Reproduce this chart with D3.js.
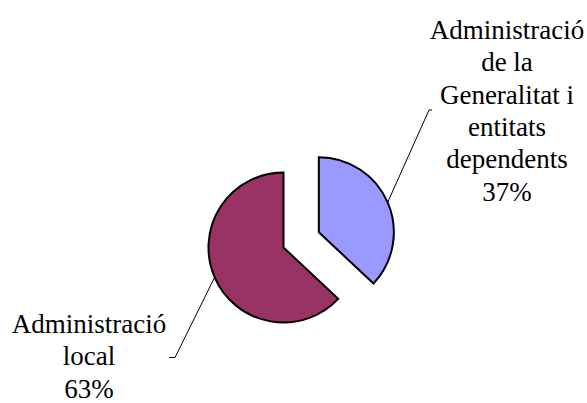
<!DOCTYPE html>
<html><head><meta charset="utf-8">
<script src="https://cdn.jsdelivr.net/npm/d3@7"></script></head>
<body style="margin:0">
<div id="wrap" style="position:relative;width:587px;height:403px;">
<svg id="s" width="587" height="403" style="position:absolute;left:0;top:0"></svg>
</div>
<script>
const categories = ["Administració de la Generalitat i entitats dependents", "Administració local"];
const values = [37, 63];
const labelLines = [
  ["Administració", "de la", "Generalitat i", "entitats", "dependents"],
  ["Administració", "local"]
];
const percentLabels = ["37%", "63%"];
const colors = ["#9999FF", "#993366"];

const svg = d3.select("#s");
const cx = 283.5, cy = 247.5, r = 75;
const explode = [38.5, 0];

const pie = d3.pie().sort(null).value(d => d.value);
const arcs = pie(categories.map((c, i) => ({ name: c, value: values[i] })));
const arc = d3.arc().innerRadius(0).outerRadius(r);

function offset(d, i) {
  const a = (d.startAngle + d.endAngle) / 2;
  return [Math.sin(a) * explode[i], -Math.cos(a) * explode[i]];
}

const labelCfg = [
  { x: 507, top: 13.7, anchor: [429, 110], tick: [432, 110] },
  { x: 89, top: 307.7, anchor: [175, 357.5], tick: [169, 357.5] }
];
const lineH = 32.4;

arcs.forEach((d, i) => {
  const o = offset(d, i);
  const a = (d.startAngle + d.endAngle) / 2;
  const ex = cx + o[0] + Math.sin(a) * r;
  const ey = cy + o[1] - Math.cos(a) * r;
  const c = labelCfg[i];
  svg.append("polyline")
    .attr("points", [[ex, ey], c.anchor, c.tick].map(p => p.join(",")).join(" "))
    .attr("fill", "none").attr("stroke", "#000").attr("stroke-width", 1);
});

svg.append("g").selectAll("path").data(arcs).join("path")
  .attr("transform", (d, i) => { const o = offset(d, i); return `translate(${cx + o[0]},${cy + o[1]})`; })
  .attr("d", arc)
  .attr("fill", (d, i) => colors[i])
  .attr("stroke", "#000")
  .attr("stroke-width", 2);

// labels as HTML blocks, centred on c.x
const wrap = d3.select("#wrap");
labelCfg.forEach((c, i) => {
  const lines = labelLines[i].concat([percentLabels[i]]);
  const div = wrap.append("div")
    .style("position", "absolute")
    .style("left", (c.x - 100) + "px")
    .style("top", c.top + "px")
    .style("width", "200px")
    .style("text-align", "center")
    .style("font-family", "'Liberation Serif', 'Times New Roman', Tinos, 'Nimbus Roman', FreeSerif, 'DejaVu Serif', serif")
    .style("font-size", "27px")
    .style("line-height", lineH + "px")
    .style("color", "#000")
    .style("white-space", "nowrap");
  lines.forEach(ln => div.append("div").text(ln));
});
</script></body></html>
